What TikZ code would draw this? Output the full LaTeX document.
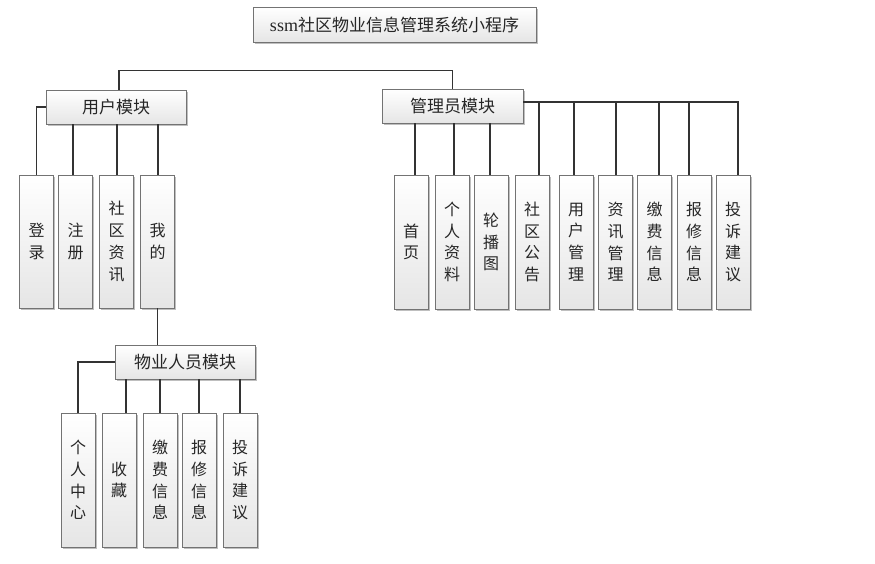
\documentclass[tikz,border=0pt]{standalone}
\usepackage{fontspec}
\setmainfont{Liberation Serif}
\newfontfamily\cjk{Noto Sans CJK SC}
\usetikzlibrary{shadows}
\begin{document}
\begin{tikzpicture}[x=1pt,y=-1pt,
  bx/.style={draw=black!55, line width=0.9pt, top color=white, bottom color=black!10,
    inner sep=0pt, text=black!85,
    drop shadow={shadow xshift=1.5pt, shadow yshift=-1.5pt, opacity=0.25, fill=black}},
  modbox/.style={bx, minimum height=34pt, font=\cjk\fontsize{17}{20}\selectfont},
  leaf/.style={bx, minimum width=34pt, minimum height=134pt, align=center,
    font=\cjk\fontsize{16}{21.7}\selectfont},
  ln/.style={draw=black!80, line width=1.1pt}]
\useasboundingbox[fill=white] (0,0) rectangle (875,563);
% title
\node[modbox, minimum width=283pt, minimum height=35pt] (title) at (394.5,24.5)
  {{\rmfamily\fontsize{18}{20}\selectfont ssm}社区物业信息管理系统小程序};
% modules
\node[modbox, minimum width=140pt] (um) at (116,107) {用户模块};
\node[modbox, minimum width=141pt] (ad) at (452.5,106) {管理员模块};
\node[modbox, minimum width=140pt] (pm) at (185,362) {物业人员模块};
% user children
\node[leaf, minimum height=133pt] (u1) at (36.5,241.5) {登\\录};
\node[leaf, minimum height=133pt] (u2) at (75.5,241.5) {注\\册};
\node[leaf, minimum height=133pt] (u3) at (116.5,241.5) {社\\区\\资\\讯};
\node[leaf, minimum height=133pt] (u4) at (157.5,241.5) {我\\的};
% property children
\node[leaf] (p1) at (78,480) {个\\人\\中\\心};
\node[leaf] (p2) at (119,480) {收\\藏};
\node[leaf] (p3) at (160,480) {缴\\费\\信\\息};
\node[leaf] (p4) at (199,480) {报\\修\\信\\息};
\node[leaf] (p5) at (240,480) {投\\诉\\建\\议};
% admin children
\node[leaf] (a1) at (411,242) {首\\页};
\node[leaf] (a2) at (452,242) {个\\人\\资\\料};
\node[leaf] (a3) at (491,242) {轮\\播\\图};
\node[leaf] (a4) at (532,242) {社\\区\\公\\告};
\node[leaf] (a5) at (576,242) {用\\户\\管\\理};
\node[leaf] (a6) at (615.5,242) {资\\讯\\管\\理};
\node[leaf] (a7) at (654.5,242) {缴\\费\\信\\息};
\node[leaf] (a8) at (694,242) {报\\修\\信\\息};
\node[leaf] (a9) at (733,242) {投\\诉\\建\\议};
% connectors
\draw[ln] ([xshift=3pt]um.north) -- ++(0,-19) -| (ad.north);
\draw[ln] (um.west) -| (u1.north);
\foreach \c/\s in {u2/-2.5,u3/0.5,u4/0.5}
  \draw[ln] ([xshift=\s pt]\c.north) -- ([xshift=\s pt]\c.north |- um.south);
\draw[ln] (u4.south) -- (u4.south |- pm.north);
\draw[ln] (pm.west) -| (p1.north);
\foreach \c/\s in {p2/7,p3/0,p4/0,p5/0}
  \draw[ln] ([xshift=\s pt]\c.north) -- ([xshift=\s pt]\c.north |- pm.south);
\foreach \c/\s in {a1/4,a2/2,a3/-1}
  \draw[ln] ([xshift=\s pt]\c.north) -- ([xshift=\s pt]\c.north |- ad.south);
\coordinate (bus) at ([yshift=4pt]ad.east);
\draw[ln] (bus) -| ([xshift=5pt]a9.north);
\foreach \c/\s in {a4/7,a5/-2,a6/0.5,a7/4.5,a8/-5}
  \draw[ln] ([xshift=\s pt]\c.north) -- ([xshift=\s pt]\c.north |- bus);
\end{tikzpicture}
\end{document}
